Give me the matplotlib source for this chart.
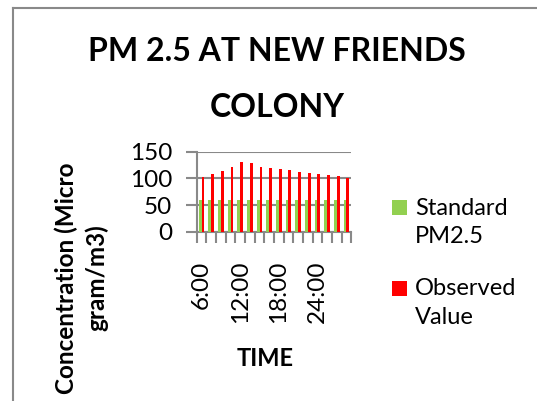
import numpy as np
import matplotlib.pyplot as plt
from matplotlib.patches import Rectangle
from matplotlib.lines import Line2D
from matplotlib.legend_handler import HandlerPatch
from matplotlib.container import BarContainer

plt.rcParams['font.family'] = ['Lato', 'DejaVu Sans']

times = ["6:00", "7:30", "9:00", "10:30", "12:00", "13:30", "15:00", "16:30",
         "18:00", "19:30", "21:00", "22:30", "24:00", "1:30", "3:00", "4:30"]
standard = [60] * 16
observed = [102, 108, 114, 121, 131, 128, 122, 119, 117, 115, 112, 110, 109, 106, 104, 100]
yticks = [0, 50, 100, 150]

GREEN = "#92D050"
RED = "#FF0000"
GRAY = "#898989"

fig = plt.figure(figsize=(5.37, 4.01), dpi=100)
ax = fig.add_axes([0.3663, 0.4222, 0.2879, 0.1995])

x = np.arange(len(times))
w = 0.28
ax.bar(x - w / 2, standard, w, color=GREEN, label="Standard\nPM2.5", zorder=3)
ax.bar(x + w / 2, observed, w, color=RED, label="Observed\nValue", zorder=3)

ax.set_xlim(-0.5, len(times) - 0.5)
ax.set_ylim(0, 150)
ax.set_yticks(yticks)
ax.set_yticklabels([str(v) for v in yticks], fontsize=17.5)
ax.grid(axis="y", color=GRAY, linewidth=1.5, zorder=0)

# category tick marks at boundaries, labels every 4th category
ax.set_xticks(np.arange(-0.5, len(times)), minor=True)
ax.set_xticks(x[::4])
ax.set_xticklabels(times[::4], rotation=90, fontsize=17.5)
ax.tick_params(axis="x", which="major", length=0, pad=21)
ax.tick_params(axis="x", which="minor", length=8, width=1.5, color=GRAY)
ax.tick_params(axis="y", length=8, width=1.5, color=GRAY, pad=9.5)

for s in ["top", "right"]:
    ax.spines[s].set_visible(False)
for s in ["left", "bottom"]:
    ax.spines[s].set_color(GRAY)
    ax.spines[s].set_linewidth(1.5)

ax.set_xlabel("TIME", fontsize=17, fontweight="bold")
ax.xaxis.set_label_coords(0.44, -1.58)
ax.xaxis.label.set_va("center")
ax.set_ylabel("Concentration (Micro\ngram/m3)", fontsize=17.5, fontweight="bold",
              multialignment="center", linespacing=1.35)
ax.yaxis.set_label_coords(-0.745, -0.579)
ax.yaxis.label.set_va("center")

fig.text(0.516, 0.802, "PM 2.5 AT NEW FRIENDS\nCOLONY", fontsize=23, fontweight="bold",
         ha="center", va="center", linespacing=2.1)


def top_square(legend, orig_handle, xdescent, ydescent, width, height, fontsize):
    # square next to the first line of a two-line label
    s = 0.64 * fontsize
    return Rectangle((-xdescent, -ydescent + 0.66 * fontsize), s, s)


def from_first_bar(tgt, src):
    tgt.update_from(src.patches[0])


leg = ax.legend(loc="upper left", bbox_to_anchor=(0.69, 0.56), bbox_transform=fig.transFigure,
                frameon=False, fontsize=17, handlelength=0.64, handleheight=0.7,
                handletextpad=0.35, labelspacing=1.3,
                handler_map={BarContainer: HandlerPatch(patch_func=top_square,
                                                        update_func=from_first_bar)})
for t in leg.get_texts():
    t.set_linespacing(1.45)

# chart area border (left and top visible)
fig.add_artist(Line2D([13 / 537, 13 / 537], [0, 1 - 8 / 401], color=GRAY, linewidth=1.5))
fig.add_artist(Line2D([13 / 537, 1], [1 - 8 / 401, 1 - 8 / 401], color=GRAY, linewidth=1.5))

fig.savefig("out.png", dpi=100)
